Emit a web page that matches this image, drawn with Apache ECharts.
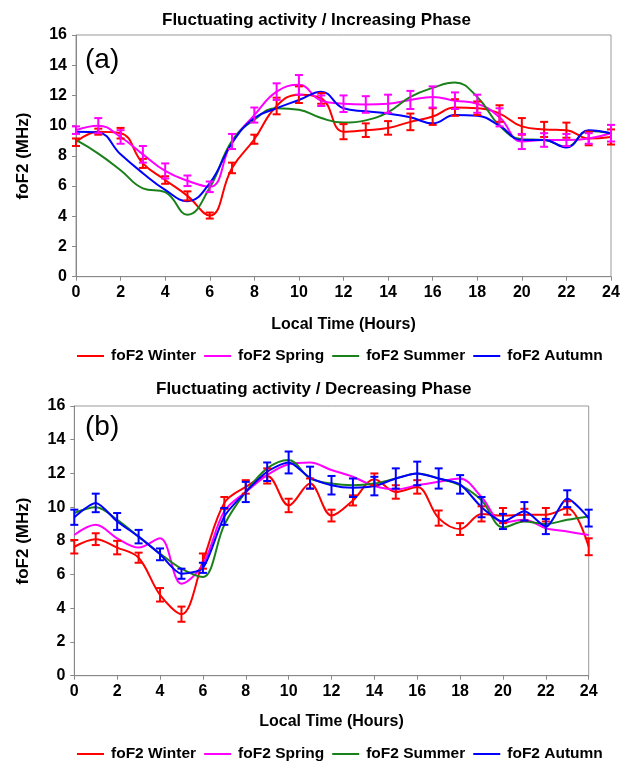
<!DOCTYPE html>
<html>
<head>
<meta charset="utf-8">
<script src="https://cdn.jsdelivr.net/npm/echarts@6/dist/echarts.min.js"></script>
<style>html,body{margin:0;padding:0;background:#fff}#c{width:631px;height:763px}</style>
</head>
<body>
<div id="c"></div>
<script>
// ---- data ----
const hours = [0,1,2,3,4,5,6,7,8,9,10,11,12,13,14,15,16,17,18,19,20,21,22,23,24];
const xTicks = [0,2,4,6,8,10,12,14,16,18,20,22,24];
const seriesNames = ['foF2 Winter','foF2 Spring','foF2 Summer','foF2 Autumn'];

// Panel (a) Increasing phase
const winterA    = [8.9,9.6,9.5,7.5,6.4,5.35,4.05,7.2,9.1,11.3,12.05,11.8,9.6,9.7,9.85,10.25,10.6,11.2,11.15,10.8,9.95,9.75,9.7,9.15,9.25];
const winterAErr = [0.25,0.2,0.35,0.3,0.25,0.3,0.2,0.35,0.3,0.55,0.55,0.35,0.5,0.45,0.45,0.55,0.55,0.55,0.45,0.55,0.55,0.5,0.5,0.45,0.5];
const springA    = [9.7,10.0,9.25,8.1,7.0,6.35,5.95,8.95,10.7,12.25,12.7,11.65,11.45,11.4,11.45,11.7,11.9,11.65,11.45,10.55,8.95,9.05,9.05,9.15,9.5];
const springAErr = [0.25,0.5,0.45,0.55,0.5,0.35,0.35,0.5,0.5,0.55,0.65,0.35,0.55,0.55,0.6,0.6,0.7,0.55,0.6,0.6,0.5,0.45,0.4,0.35,0.55];
const summerA    = [9.05,8.15,7.05,5.85,5.6,4.1,5.9,9.0,10.4,11.15,11.05,10.5,10.2,10.35,10.9,11.9,12.5,12.85,11.9,10.0,9.1,9.05,8.6,9.65,9.5];
const autumnA    = [9.6,9.55,8.1,6.85,5.75,5.0,6.2,8.85,10.5,11.15,11.7,12.25,11.15,10.95,10.8,10.55,10.15,10.7,10.65,10.0,9.05,9.05,8.55,9.7,9.5];

// Panel (b) Decreasing phase
const winterB    = [7.65,8.1,7.6,7.0,4.8,3.65,6.8,10.25,11.2,11.85,10.1,11.4,9.5,10.4,11.65,10.9,11.2,9.35,8.7,9.6,9.5,9.55,9.55,9.95,7.65];
const winterBErr = [0.4,0.35,0.4,0.3,0.4,0.45,0.45,0.35,0.4,0.45,0.4,0.3,0.35,0.3,0.35,0.4,0.4,0.45,0.35,0.45,0.45,0.35,0.4,0.4,0.5];
const springB    = [8.35,8.95,8.15,7.6,8.15,5.45,6.6,9.75,10.9,11.9,12.55,12.65,12.2,11.8,11.25,11.05,11.3,11.5,11.7,10.6,9.1,9.25,8.75,8.55,8.35];
const summerB    = [9.65,10.0,9.25,8.25,7.25,6.35,5.85,8.95,10.9,12.3,12.8,11.7,11.4,11.3,11.4,11.7,12.0,11.7,11.3,10.4,8.8,9.15,9.0,9.25,9.45];
const autumnB    = [9.4,10.25,9.15,8.25,7.2,6.05,6.4,9.45,10.9,12.1,12.65,11.75,11.3,11.15,11.25,11.7,12.0,11.7,11.35,10.0,9.15,9.75,8.85,10.5,9.35];
const autumnBErr = [0.45,0.55,0.5,0.4,0.35,0.3,0.3,0.5,0.6,0.55,0.65,0.65,0.55,0.55,0.55,0.6,0.7,0.6,0.55,0.6,0.45,0.55,0.45,0.5,0.5];

// ---- styling ----
const FONT = '"Liberation Sans", Arial, sans-serif';
const colors = {'foF2 Winter':'#ff0000','foF2 Spring':'#ff00ff','foF2 Summer':'#1a801a','foF2 Autumn':'#0000ff'};

function pts(vals){ return hours.map((h,i)=>[h, vals[i]]); }
function errPts(vals, errs){ return hours.map((h,i)=>[h, vals[i]-errs[i], vals[i]+errs[i]]); }

function lineSeries(name, vals, idx, smooth){
  return {name, type:'line', xAxisIndex:idx, yAxisIndex:idx, data:pts(vals), smooth:smooth,
    showSymbol:false, symbol:'none', color:colors[name], lineStyle:{width:2, color:colors[name]}, z:2};
}
function errSeries(name, vals, errs, idx){
  const c = colors[name];
  return {name: name + ' err' + idx, type:'custom', xAxisIndex:idx, yAxisIndex:idx,
    data: errPts(vals, errs), encode:{x:0, y:[1,2]}, clip:false, z:3, silent:true,
    renderItem: function(params, api){
      const x = api.value(0);
      const top = api.coord([x, api.value(2)]);
      const bot = api.coord([x, api.value(1)]);
      const w = 4;
      const st = {stroke:c, lineWidth:2};
      return {type:'group', children:[
        {type:'line', shape:{x1:top[0], y1:top[1], x2:bot[0], y2:bot[1]}, style:st},
        {type:'line', shape:{x1:top[0]-w, y1:top[1], x2:top[0]+w, y2:top[1]}, style:st},
        {type:'line', shape:{x1:bot[0]-w, y1:bot[1], x2:bot[0]+w, y2:bot[1]}, style:st}
      ]};
    }};
}

function xAxis(idx){
  return {gridIndex:idx, type:'value', min:0, max:24, interval:2,
    axisLine:{show:true, onZero:false, lineStyle:{color:'#888', width:1}},
    axisTick:{show:true, length:4, lineStyle:{color:'#888'}},
    axisLabel:{fontSize:16, fontWeight:'bold', color:'#000', fontFamily:FONT, margin:8,
      formatter: v => xTicks.includes(v) ? String(v) : ''},
    splitLine:{show:false}};
}
function yAxis(idx){
  return {gridIndex:idx, type:'value', min:0, max:16, interval:2,
    axisLine:{show:true, lineStyle:{color:'#888', width:1}},
    axisTick:{show:true, length:4, lineStyle:{color:'#888'}},
    axisLabel:{fontSize:16, fontWeight:'bold', color:'#000', fontFamily:FONT, margin:9},
    splitLine:{show:false}};
}
function legend(top){
  return {left:77, top:top, padding:0, orient:'horizontal', itemGap:8, itemWidth:27, itemHeight:2, icon:'rect',
    data:seriesNames, selectedMode:false,
    textStyle:{fontSize:15.5, fontWeight:'bold', color:'#000', fontFamily:FONT, padding:[0,0,0,2]}};
}
function txt(x, y, text, font, align, rot){
  return {type:'text', x:x, y:y, rotation:rot||0, silent:true,
    style:{text:text, font:font, fill:'#000', textAlign:align||'center', textVerticalAlign:'middle',
      align:align||'center', verticalAlign:'middle'}};
}

const chart = echarts.init(document.getElementById('c'), null, {renderer:'canvas'});
chart.setOption({
  animation:false,
  backgroundColor:'#fff',
  grid:[
    {left:76, top:35, width:535, height:241.7, show:true, borderColor:'#999', borderWidth:1, backgroundColor:'transparent', containLabel:false},
    {left:74.3, top:406, width:514.4, height:269.7, show:true, borderColor:'#999', borderWidth:1, backgroundColor:'transparent', containLabel:false}
  ],
  xAxis:[xAxis(0), xAxis(1)],
  yAxis:[yAxis(0), yAxis(1)],
  legend:[legend(348), legend(746)],
  graphic:[
    txt(162, 20.5, 'Fluctuating activity / Increasing Phase', 'bold 17px ' + FONT, 'left'),
    txt(85, 60, '(a)', '28px ' + FONT, 'left'),
    txt(23, 156, 'foF2 (MHz)', 'bold 17px ' + FONT, 'center', Math.PI/2),
    txt(343.5, 325, 'Local Time (Hours)', 'bold 16px ' + FONT, 'center'),
    txt(156, 389, 'Fluctuating activity / Decreasing Phase', 'bold 17px ' + FONT, 'left'),
    txt(85, 427, '(b)', '28px ' + FONT, 'left'),
    txt(23, 541, 'foF2 (MHz)', 'bold 17px ' + FONT, 'center', Math.PI/2),
    txt(331.5, 722, 'Local Time (Hours)', 'bold 16px ' + FONT, 'center')
  ],
  series:[
    lineSeries('foF2 Winter', winterA, 0, 0.45),
    lineSeries('foF2 Spring', springA, 0, 0.45),
    lineSeries('foF2 Summer', summerA, 0, 0.45),
    lineSeries('foF2 Autumn', autumnA, 0, 0.45),
    errSeries('foF2 Winter', winterA, winterAErr, 0),
    errSeries('foF2 Spring', springA, springAErr, 0),
    lineSeries('foF2 Winter', winterB, 1, 0.35),
    lineSeries('foF2 Spring', springB, 1, 0.35),
    lineSeries('foF2 Summer', summerB, 1, 0.35),
    lineSeries('foF2 Autumn', autumnB, 1, 0.25),
    errSeries('foF2 Winter', winterB, winterBErr, 1),
    errSeries('foF2 Autumn', autumnB, autumnBErr, 1)
  ]
});
</script>
</body>
</html>
